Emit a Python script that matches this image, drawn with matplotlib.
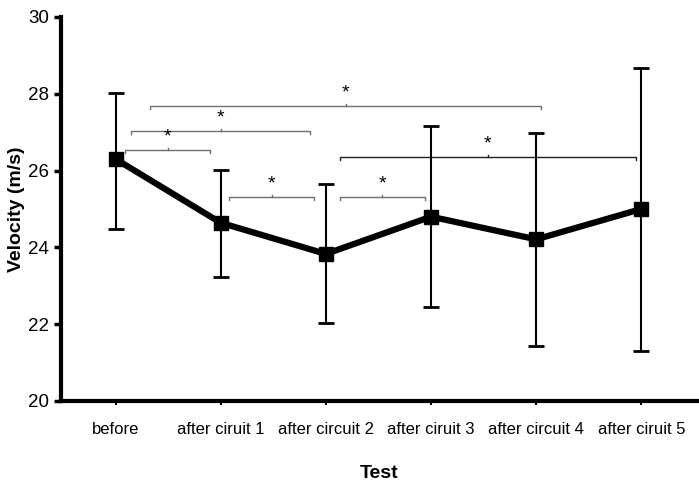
import matplotlib
matplotlib.use("Agg")
import matplotlib.pyplot as plt

plt.rcParams["font.family"] = ["Liberation Sans", "DejaVu Sans"]

# ---------- data ----------
tests = ["before", "after ciruit 1", "after circuit 2", "after ciruit 3",
         "after circuit 4", "after ciruit 5"]
velocity = [26.30, 24.64, 23.83, 24.80, 24.21, 25.00]
err_hi = [28.02, 26.02, 25.64, 27.17, 26.97, 28.67]
err_lo = [24.48, 23.24, 22.02, 22.46, 21.44, 21.30]

# significance brackets: (x start, x end, y level, colour)
brackets = [
    (0.09, 0.90, 26.53, "#707070"),
    (0.15, 1.85, 27.03, "#707070"),
    (0.33, 4.05, 27.69, "#707070"),
    (1.08, 1.89, 25.32, "#707070"),
    (2.13, 2.94, 25.32, "#707070"),
    (2.13, 4.95, 26.35, "#222222"),
]

# ---------- figure ----------
fig = plt.figure(figsize=(6.99, 4.87), dpi=100)
ax = fig.add_axes([61 / 699, 86 / 487, 636 / 699, 384 / 487])

x = list(range(len(tests)))
yerr = [[v - lo for v, lo in zip(velocity, err_lo)],
        [hi - v for v, hi in zip(velocity, err_hi)]]

ax.errorbar(x, velocity, yerr=yerr, fmt="none", ecolor="black",
            elinewidth=1.5, capsize=6, capthick=2, zorder=2)
ax.plot(x, velocity, color="black", linewidth=4.5, marker="s",
        markersize=10, zorder=3)

# brackets with stars
for x0, x1, y, col in brackets:
    hook = 0.08
    ax.plot([x0, x0, x1, x1], [y - hook, y, y, y - hook],
            color=col, linewidth=1.0, zorder=1)
    xm = (x0 + x1) / 2
    ax.plot([xm, xm], [y, y + 0.05], color=col, linewidth=1.0, zorder=1)
    ax.text(xm, y + 0.12, "*", ha="center", va="bottom", fontsize=14)

ax.set_xlim(-0.52, 5.53)
ax.set_ylim(20, 30)
ax.set_yticks([20, 22, 24, 26, 28, 30])
ax.set_xticks(x)
ax.set_xticklabels(tests, fontsize=12)
ax.tick_params(axis="y", labelsize=13.5, width=2.5, length=5, direction="out")
ax.tick_params(axis="x", width=1.5, length=3, direction="out", pad=12)

ax.spines["top"].set_visible(False)
ax.spines["right"].set_visible(False)
ax.spines["left"].set_linewidth(3)
ax.spines["bottom"].set_linewidth(3)

ax.set_xlabel("Test", fontsize=14, fontweight="bold", labelpad=20)
ax.set_ylabel("Velocity (m/s)", fontsize=14, fontweight="bold", labelpad=2)

fig.savefig("out.png", dpi=100)
